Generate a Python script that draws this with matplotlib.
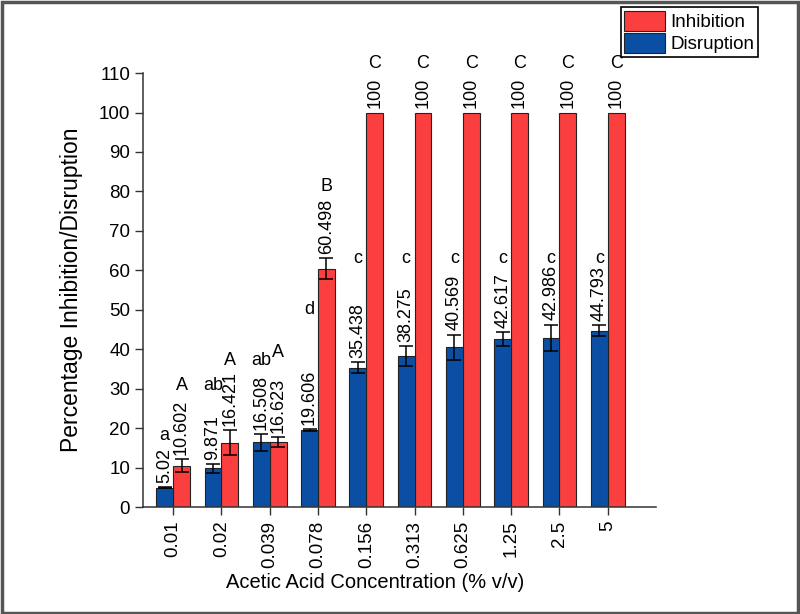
import numpy as np
import matplotlib.pyplot as plt
from matplotlib.patches import Rectangle

plt.rcParams['font.family'] = ['Liberation Sans', 'DejaVu Sans']

## Dados
concentracoes = ['0.01', '0.02', '0.039', '0.078', '0.156', '0.313', '0.625', '1.25', '2.5', '5']
disrupcao = [5.02, 9.871, 16.508, 19.606, 35.438, 38.275, 40.569, 42.617, 42.986, 44.793]
disrupcao_err = [0.2, 1.05, 2.1, 0.15, 1.4, 2.5, 3.2, 1.8, 3.3, 1.3]
inibicao = [10.602, 16.421, 16.623, 60.498, 100, 100, 100, 100, 100, 100]
inibicao_err = [1.7, 3.1, 1.2, 2.7, 0, 0, 0, 0, 0, 0]

## Letras de significancia e altura (valor no eixo y) onde aparecem
letras_dis = ['a', 'ab', 'ab', 'd', 'c', 'c', 'c', 'c', 'c', 'c']
letras_dis_y = [18.3, 31.0, 37.3, 50.0, 63.1, 63.1, 63.1, 63.1, 63.1, 63.1]
letras_inib = ['A', 'A', 'A', 'B', 'C', 'C', 'C', 'C', 'C', 'C']
letras_inib_y = [31.0, 37.3, 39.3, 81.3, 112.4, 112.4, 112.4, 112.4, 112.4, 112.4]

azul = '#0a4fa3'
vermelho = '#fb3e3e'

fig = plt.figure(figsize=(8, 6.14), dpi=100)
ax = fig.add_axes([0.179, 0.1735, 0.641, 0.7076])

x = np.arange(len(concentracoes))
w = 0.35

b_inib = ax.bar(x + w / 2, inibicao, w, color=vermelho, edgecolor='#222222', linewidth=0.8,
                label='Inhibition', zorder=2)
b_dis = ax.bar(x - w / 2, disrupcao, w, color=azul, edgecolor='#222222', linewidth=0.8,
               label='Disruption', zorder=2)

## barras de erro (so onde existe erro)
for xs, vals, errs in [(x - w / 2, disrupcao, disrupcao_err), (x + w / 2, inibicao, inibicao_err)]:
    for xi, v, e in zip(xs, vals, errs):
        if e > 0:
            ax.errorbar(xi, v, yerr=e, fmt='none', ecolor='black', elinewidth=1.1,
                        capsize=5, capthick=1.1, zorder=3)

## rotulos com os valores
for xs, vals, errs in [(x - w / 2, disrupcao, disrupcao_err), (x + w / 2, inibicao, inibicao_err)]:
    for xi, v, e in zip(xs, vals, errs):
        ax.annotate(f'{v:g}', (xi, v + e), xytext=(0, 3), textcoords='offset points',
                    rotation=90, ha='center', va='bottom', fontsize=13, annotation_clip=False)

## letras
for xi, l, ly in zip(x - w / 2, letras_dis, letras_dis_y):
    ax.text(xi, ly, l, ha='center', va='center', fontsize=13, clip_on=False)
for xi, l, ly in zip(x + w / 2, letras_inib, letras_inib_y):
    ax.text(xi, ly, l, ha='center', va='center', fontsize=13, clip_on=False)

ax.set_xlim(-0.62, 10.0)
ax.set_ylim(0, 110)
ax.set_yticks(np.arange(0, 111, 10))
ax.set_xticks(x)
ax.set_xticklabels(concentracoes, rotation=90)
ax.tick_params(axis='both', direction='out', length=6, width=1, labelsize=13.5, color='#333333')

for s in ['top', 'right']:
    ax.spines[s].set_visible(False)
for s in ['left', 'bottom']:
    ax.spines[s].set_linewidth(1.1)
    ax.spines[s].set_color('#333333')

ax.set_xlabel('Acetic Acid Concentration (% v/v)', fontsize=14.5)
ax.xaxis.set_label_coords(0.452, -0.15)
ax.set_ylabel('Percentage Inhibition/Disruption', fontsize=16.5)
ax.yaxis.set_label_coords(-0.117, 0.5)

leg = fig.legend(handles=[b_inib, b_dis], labels=['Inhibition', 'Disruption'],
                 loc='upper right', bbox_to_anchor=(0.9475, 0.9886), fontsize=13.5,
                 frameon=True, fancybox=False, edgecolor='black', framealpha=1,
                 handlelength=2.15, handleheight=1.3, handletextpad=0.3,
                 borderpad=0.2, labelspacing=0.08, borderaxespad=0)
leg.get_frame().set_linewidth(1.2)

## moldura da figura
fig.patches.append(Rectangle((0.002, 0.002), 0.996, 0.995, transform=fig.transFigure,
                             fill=False, edgecolor='#555555', linewidth=2.5))

plt.savefig('out.png', dpi=100)
